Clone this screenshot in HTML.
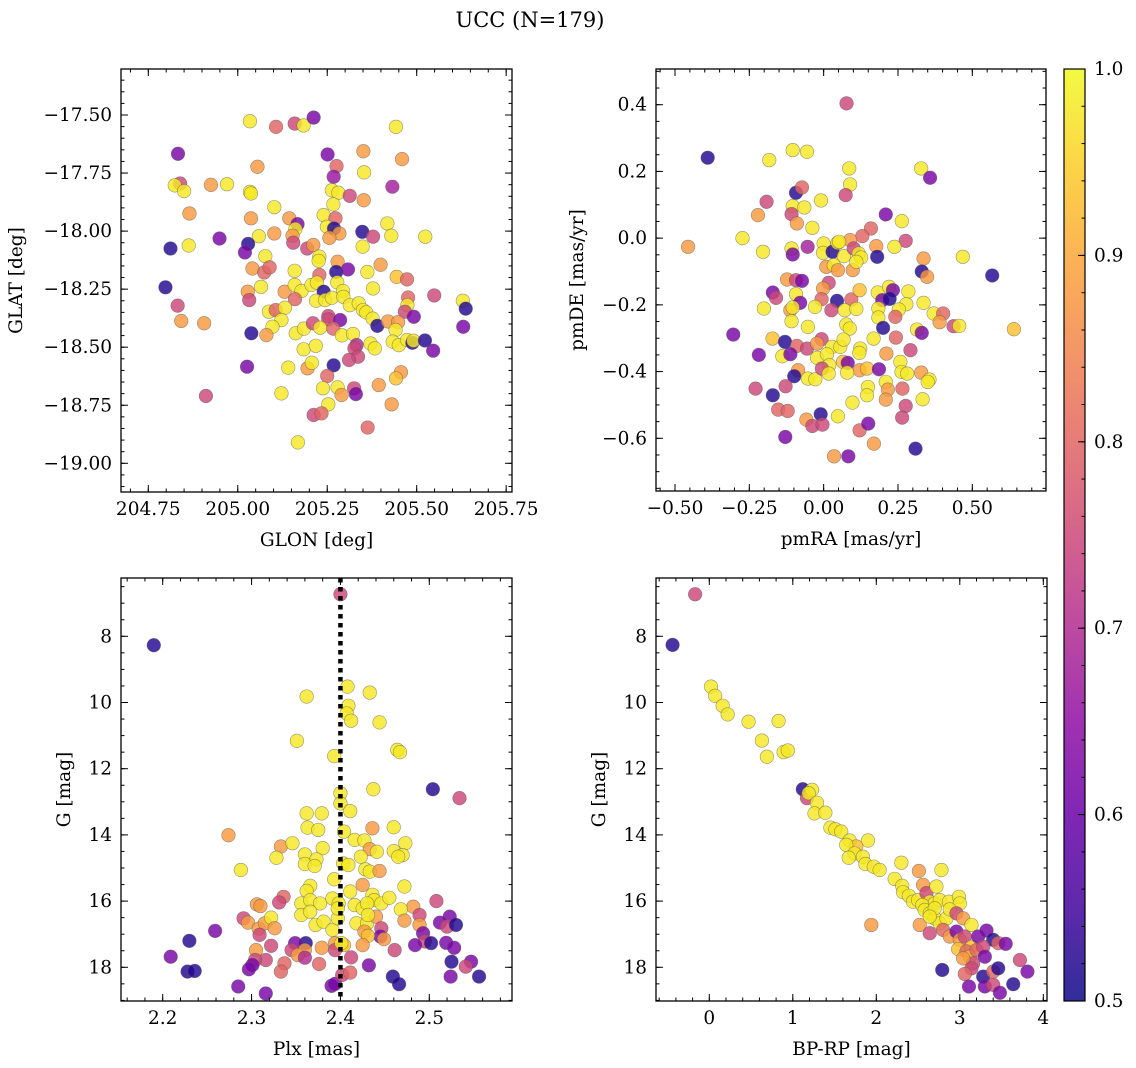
<!DOCTYPE html>
<html><head><meta charset="utf-8"><style>
html,body{margin:0;padding:0;background:#fff;}
svg{display:block;font-family:"DejaVu Serif","Liberation Serif",serif;}
</style></head><body>
<svg id="fig" width="1136" height="1068" viewBox="0 0 1136 1068">
<text x="530" y="27" font-size="21" text-anchor="middle">UCC (N=179)</text>
</svg>
<script>
// ---- data (x, y, membership probability) ----
const d=0.52, pu=0.62, pk=0.75, po=0.8, o=0.88, yo=0.93, y=0.98;
const glonGlat = [[205.034,-17.527,y],[205.107,-17.551,po],[205.159,-17.537,pk],[205.184,-17.545,y],[205.212,-17.511,pu],[205.442,-17.551,y],[204.833,-17.667,pu],[205.251,-17.670,pu],[205.351,-17.656,o],[205.276,-17.720,po],[205.459,-17.690,o],[205.055,-17.723,o],[205.353,-17.747,y],[205.268,-17.766,0.66],[205.432,-17.809,0.68],[204.839,-17.795,pk],[204.824,-17.803,y],[204.850,-17.828,y],[204.925,-17.801,o],[204.970,-17.798,y],[205.034,-17.831,y],[205.037,-17.838,y],[205.263,-17.824,y],[205.281,-17.835,y],[205.313,-17.848,pk],[205.352,-17.867,o],[205.267,-17.885,y],[205.102,-17.897,y],[204.865,-17.924,o],[205.240,-17.931,y],[205.273,-17.945,po],[205.037,-17.945,o],[205.144,-17.945,o],[205.167,-17.970,pu],[205.161,-17.991,y],[205.249,-17.981,y],[205.269,-17.989,d],[205.284,-18.010,o],[205.256,-18.029,o],[205.418,-17.967,y],[205.429,-18.020,y],[205.348,-18.003,d],[205.378,-18.024,pk],[205.524,-18.024,y],[204.949,-18.032,pu],[205.059,-18.022,y],[205.102,-18.010,o],[205.153,-18.020,o],[205.155,-18.050,pk],[205.029,-18.055,d],[205.020,-18.092,pu],[204.812,-18.075,d],[204.863,-18.062,y],[205.194,-18.075,pk],[205.211,-18.060,o],[205.349,-18.067,y],[205.077,-18.108,y],[205.228,-18.110,y],[205.226,-18.128,y],[205.279,-18.132,o],[205.275,-18.176,d],[205.308,-18.165,pu],[205.399,-18.145,o],[205.362,-18.176,y],[205.041,-18.161,o],[205.074,-18.178,po],[205.089,-18.156,po],[205.159,-18.171,y],[205.228,-18.189,po],[205.444,-18.197,yo],[205.473,-18.208,po],[204.798,-18.242,d],[205.065,-18.240,y],[205.028,-18.261,o],[205.131,-18.261,o],[205.159,-18.232,y],[205.178,-18.258,y],[205.206,-18.232,y],[205.221,-18.222,y],[205.240,-18.261,d],[205.278,-18.221,y],[205.294,-18.258,y],[205.378,-18.247,y],[205.549,-18.277,pk],[205.629,-18.300,y],[205.637,-18.334,d],[205.630,-18.412,pu],[204.832,-18.321,pk],[205.032,-18.297,pk],[205.160,-18.293,po],[205.219,-18.300,y],[205.244,-18.297,y],[205.263,-18.287,y],[205.295,-18.283,y],[205.313,-18.319,y],[205.338,-18.311,y],[205.350,-18.340,y],[205.359,-18.350,y],[205.476,-18.286,po],[205.474,-18.319,y],[205.467,-18.347,pk],[205.492,-18.369,pu],[204.842,-18.387,o],[204.906,-18.397,o],[205.087,-18.347,y],[205.106,-18.340,po],[205.132,-18.330,y],[205.122,-18.383,y],[205.097,-18.412,y],[205.253,-18.366,pk],[205.253,-18.380,pk],[205.286,-18.383,pu],[205.377,-18.377,y],[205.390,-18.408,d],[205.420,-18.389,o],[205.448,-18.392,o],[205.441,-18.426,y],[205.038,-18.440,d],[205.080,-18.448,o],[205.162,-18.440,y],[205.185,-18.420,y],[205.210,-18.397,pk],[205.230,-18.416,y],[205.267,-18.420,po],[205.291,-18.449,y],[205.322,-18.443,y],[205.433,-18.476,y],[205.450,-18.491,y],[205.473,-18.469,y],[205.488,-18.481,d],[205.491,-18.472,y],[205.523,-18.471,d],[205.546,-18.515,pu],[205.184,-18.509,y],[205.218,-18.494,y],[205.332,-18.491,0.7],[205.326,-18.505,pk],[205.336,-18.541,pk],[205.311,-18.555,pk],[205.371,-18.484,y],[205.383,-18.505,y],[205.026,-18.584,pu],[205.141,-18.588,y],[205.195,-18.591,o],[205.207,-18.567,y],[205.268,-18.578,d],[205.250,-18.624,po],[205.456,-18.608,o],[205.442,-18.634,yo],[205.394,-18.663,o],[205.238,-18.677,y],[205.279,-18.673,y],[205.290,-18.706,o],[205.325,-18.677,pk],[205.330,-18.702,pu],[205.122,-18.699,y],[205.253,-18.746,y],[205.430,-18.746,o],[204.911,-18.710,pk],[205.212,-18.792,pk],[205.234,-18.785,po],[205.363,-18.846,po],[205.168,-18.910,y]];
const pmraPmde = [[0.077,0.404,pk],[-0.39,0.241,d],[-0.456,-0.026,o],[-0.273,0.0,y],[-0.104,0.264,y],[-0.056,0.259,y],[-0.183,0.234,y],[0.086,0.209,y],[0.089,0.161,y],[0.328,0.209,y],[0.358,0.181,pu],[-0.093,0.136,d],[-0.073,0.152,po],[0.074,0.129,pk],[-0.192,0.109,pk],[-0.104,0.096,y],[-0.065,0.092,y],[-0.009,0.113,y],[-0.108,0.072,pk],[-0.221,0.069,o],[-0.090,0.044,o],[-0.038,0.031,y],[0.209,0.071,pu],[0.263,0.051,y],[0.159,0.029,po],[0.130,0.006,po],[0.276,-0.008,pk],[0.089,-0.006,o],[0.177,-0.024,o],[0.238,-0.026,y],[0.0,-0.016,y],[-0.002,-0.044,y],[0.030,-0.041,d],[0.047,-0.014,y],[0.052,-0.011,y],[0.068,-0.054,y],[0.101,-0.031,pk],[0.118,-0.046,y],[0.126,-0.058,y],[0.180,-0.056,d],[-0.108,-0.031,y],[-0.104,-0.049,pu],[-0.054,-0.026,0.68],[-0.204,-0.041,y],[0.468,-0.056,y],[0.336,-0.061,o],[0.567,-0.112,d],[0.330,-0.100,d],[0.348,-0.116,o],[0.009,-0.086,o],[0.034,-0.081,y],[0.048,-0.096,o],[0.098,-0.096,o],[0.110,-0.071,y],[-0.123,-0.124,o],[-0.093,-0.126,pk],[-0.073,-0.128,pu],[0.017,-0.134,pk],[-0.002,-0.151,o],[-0.007,-0.183,po],[0.045,-0.188,d],[0.093,-0.184,po],[0.121,-0.156,yo],[0.182,-0.163,y],[0.220,-0.146,y],[0.233,-0.156,pu],[0.285,-0.160,y],[0.197,-0.186,pu],[0.222,-0.182,d],[-0.171,-0.163,pu],[-0.160,-0.179,pk],[-0.093,-0.168,y],[-0.079,-0.194,pu],[0.336,-0.194,y],[0.278,-0.198,y],[0.253,-0.214,y],[-0.201,-0.211,y],[-0.112,-0.216,o],[-0.104,-0.208,y],[-0.029,-0.206,y],[0.026,-0.216,pk],[0.071,-0.216,y],[0.110,-0.212,y],[0.184,-0.211,y],[0.184,-0.238,y],[0.241,-0.236,po],[0.370,-0.226,y],[0.402,-0.226,po],[0.390,-0.252,o],[0.437,-0.264,pk],[0.456,-0.263,y],[0.640,-0.273,yo],[-0.108,-0.249,y],[-0.053,-0.266,y],[0.076,-0.259,y],[0.088,-0.271,y],[0.200,-0.269,d],[0.314,-0.274,y],[0.330,-0.284,pu],[0.243,-0.298,po],[0.168,-0.301,y],[0.292,-0.336,pk],[0.211,-0.346,o],[-0.304,-0.289,pu],[-0.172,-0.301,yo],[-0.130,-0.311,d],[-0.090,-0.323,po],[-0.056,-0.331,pk],[-0.007,-0.303,pk],[-0.022,-0.316,o],[0.028,-0.326,y],[0.056,-0.326,y],[0.067,-0.304,y],[0.123,-0.331,y],[0.120,-0.344,y],[-0.218,-0.350,pu],[-0.139,-0.354,y],[-0.112,-0.348,pu],[-0.022,-0.359,y],[0.011,-0.348,y],[0.065,-0.371,yo],[0.081,-0.374,pu],[0.019,-0.381,y],[0.258,-0.371,y],[0.121,-0.396,o],[0.146,-0.391,yo],[0.186,-0.393,pu],[0.262,-0.401,y],[0.281,-0.406,y],[0.328,-0.403,o],[0.356,-0.424,y],[0.350,-0.431,y],[-0.086,-0.396,o],[-0.099,-0.414,d],[-0.053,-0.421,y],[-0.028,-0.423,y],[-0.006,-0.391,pk],[0.017,-0.406,y],[0.079,-0.403,y],[0.209,-0.431,y],[0.216,-0.454,o],[0.265,-0.451,po],[0.149,-0.446,y],[0.146,-0.471,y],[0.209,-0.484,o],[0.333,-0.483,y],[-0.229,-0.451,pk],[-0.171,-0.471,d],[-0.128,-0.444,pk],[-0.153,-0.514,po],[-0.121,-0.518,po],[-0.010,-0.528,d],[0.048,-0.534,y],[0.097,-0.493,y],[0.276,-0.503,pk],[0.264,-0.538,pk],[-0.058,-0.544,o],[-0.038,-0.563,pk],[-0.004,-0.559,pk],[0.121,-0.576,po],[0.150,-0.556,pu],[-0.129,-0.596,pu],[0.169,-0.616,o],[0.309,-0.631,d],[0.035,-0.654,o],[0.083,-0.654,pu]];
const plxG = [[2.190,8.27,d],[2.400,6.73,pk],[2.408,9.52,y],[2.433,9.70,y],[2.362,9.82,y],[2.409,10.10,y],[2.407,10.33,y],[2.412,10.55,y],[2.444,10.60,y],[2.351,11.16,y],[2.464,11.43,y],[2.467,11.50,y],[2.393,11.62,y],[2.437,12.62,y],[2.504,12.62,d],[2.534,12.89,pk],[2.400,12.74,y],[2.400,13.05,y],[2.362,13.35,y],[2.379,13.35,y],[2.411,13.28,y],[2.274,14.01,o],[2.363,13.78,y],[2.375,13.85,y],[2.404,13.90,y],[2.436,13.80,o],[2.460,13.77,y],[2.333,14.35,o],[2.346,14.25,y],[2.380,14.40,y],[2.416,14.15,y],[2.427,14.17,y],[2.433,14.43,o],[2.441,14.51,y],[2.460,14.49,y],[2.473,14.25,y],[2.470,14.61,y],[2.465,14.66,y],[2.328,14.69,y],[2.360,14.59,y],[2.373,14.74,y],[2.360,14.88,y],[2.371,14.94,y],[2.403,14.86,y],[2.409,14.91,y],[2.423,14.66,y],[2.288,15.06,y],[2.428,15.04,y],[2.433,15.11,y],[2.444,15.09,o],[2.393,15.34,y],[2.425,15.51,o],[2.472,15.56,y],[2.366,15.54,y],[2.362,15.69,y],[2.411,15.71,y],[2.336,15.87,po],[2.331,16.04,pk],[2.306,16.10,o],[2.310,16.15,o],[2.356,16.07,y],[2.366,15.97,y],[2.377,16.07,y],[2.391,15.92,y],[2.398,16.07,y],[2.416,16.12,y],[2.425,16.22,y],[2.436,15.81,y],[2.438,15.97,y],[2.446,16.07,y],[2.455,15.90,y],[2.430,16.07,y],[2.482,16.17,o],[2.508,16.00,pk],[2.468,16.25,y],[2.489,16.42,pk],[2.523,16.47,pu],[2.512,16.65,pu],[2.520,16.77,pk],[2.530,16.72,d],[2.291,16.52,pk],[2.296,16.65,o],[2.308,16.83,o],[2.315,16.67,o],[2.322,16.50,y],[2.326,16.82,o],[2.356,16.42,y],[2.366,16.32,y],[2.372,16.72,y],[2.381,16.62,y],[2.391,16.87,y],[2.397,16.52,y],[2.397,16.22,y],[2.418,16.67,y],[2.430,16.67,y],[2.427,16.92,o],[2.440,16.47,o],[2.431,16.42,y],[2.472,16.59,o],[2.489,16.72,o],[2.493,16.97,pu],[2.495,17.22,pk],[2.502,17.27,d],[2.484,17.33,pu],[2.519,17.26,pu],[2.528,17.41,pu],[2.446,16.82,pk],[2.445,17.07,pu],[2.449,17.15,o],[2.461,17.48,pk],[2.431,17.05,yo],[2.425,17.33,o],[2.404,17.33,yo],[2.394,17.27,o],[2.379,17.41,o],[2.361,17.27,d],[2.349,17.27,pu],[2.345,17.48,pk],[2.360,17.48,o],[2.352,17.63,o],[2.360,17.71,0.7],[2.322,17.35,pk],[2.305,17.48,o],[2.309,17.02,pk],[2.316,17.78,pk],[2.337,17.88,po],[2.333,18.13,po],[2.376,17.90,po],[2.412,17.70,pk],[2.394,17.48,pk],[2.304,17.78,pk],[2.301,17.93,pu],[2.297,18.06,pu],[2.259,16.90,pu],[2.230,17.20,d],[2.209,17.68,pu],[2.228,18.13,d],[2.236,18.11,d],[2.285,18.58,pu],[2.316,18.79,pu],[2.390,18.56,pu],[2.394,18.50,pu],[2.402,18.23,pk],[2.411,18.16,po],[2.432,17.94,pu],[2.459,18.28,d],[2.466,18.51,d],[2.525,17.83,d],[2.547,17.83,pu],[2.541,17.98,pk],[2.556,18.28,d],[2.524,18.28,pu],[2.401,17.27,y]];
const bprpG = [[-0.44,8.26,d],[-0.17,6.73,pk],[0.02,9.52,y],[0.07,9.80,y],[0.16,10.10,y],[0.22,10.36,y],[0.47,10.58,y],[0.83,10.56,y],[0.63,11.15,y],[0.69,11.64,y],[0.89,11.50,y],[0.94,11.45,y],[1.12,12.62,d],[1.17,12.89,pk],[1.23,12.64,y],[1.19,12.74,y],[1.29,13.03,y],[1.26,13.35,y],[1.39,13.33,y],[1.45,13.78,y],[1.51,13.83,y],[1.58,13.90,y],[1.68,14.17,y],[1.90,14.17,y],[1.76,14.35,yo],[1.64,14.30,y],[1.74,14.56,y],[1.67,14.69,y],[1.84,14.66,y],[1.87,14.88,y],[1.97,14.96,y],[2.04,15.06,y],[2.30,14.84,y],[2.51,15.09,o],[2.78,15.06,y],[2.22,15.33,y],[2.31,15.54,y],[2.56,15.51,o],[2.32,15.73,y],[2.39,15.84,y],[2.44,16.02,y],[2.50,15.97,y],[2.60,15.76,pk],[2.72,15.56,y],[2.64,16.02,y],[2.70,16.07,y],[2.76,15.97,y],[2.87,16.02,y],[2.99,15.87,y],[3.00,16.07,y],[2.55,16.12,y],[2.58,16.27,y],[2.64,16.37,y],[2.70,16.52,y],[2.76,16.67,y],[2.84,16.52,y],[2.88,16.25,y],[2.96,16.37,pk],[3.04,16.52,o],[3.14,16.72,y],[2.52,16.72,o],[2.64,16.97,pk],[2.80,16.87,po],[2.88,17.07,o],[2.96,16.92,pu],[3.00,17.17,o],[3.06,17.07,pk],[3.14,17.38,yo],[3.22,17.07,pu],[3.32,16.89,pu],[3.40,17.17,d],[3.46,17.27,po],[3.55,17.29,pu],[2.98,17.45,yo],[3.08,17.52,po],[3.12,17.68,yo],[3.20,17.48,po],[3.28,17.38,pk],[3.30,17.68,pu],[3.16,17.88,pk],[3.04,17.73,o],[3.14,18.03,pk],[3.06,18.20,po],[3.28,18.28,d],[3.40,18.13,po],[3.46,18.03,d],[3.72,17.78,pk],[3.81,18.13,pu],[2.79,18.08,d],[3.11,18.58,pu],[3.30,18.58,pu],[3.40,18.53,pk],[3.48,18.77,pu],[3.64,18.51,d],[1.94,16.72,o],[2.70,16.22,y],[2.64,16.47,y]];
const plxLine = [2.4];
const cbarTicks = [0.5,0.6,0.7,0.8,0.9,1.0];

const NS="http://www.w3.org/2000/svg";
const svg=document.getElementById('fig');
const FS=18.5;
function mk(tag,attrs,parent){const e=document.createElementNS(NS,tag);for(const k in attrs)e.setAttribute(k,attrs[k]);(parent||svg).appendChild(e);return e;}
const plasmaStops=["#0d0887","#41049d","#6a00a8","#8f0da4","#b12a90","#cc4778","#e16462","#f2844b","#fca636","#fcce25","#f0f921"];
function hex2rgb(h){return [parseInt(h.substr(1,2),16),parseInt(h.substr(3,2),16),parseInt(h.substr(5,2),16)];}
function plasma(t){t=Math.max(0,Math.min(1,t));const s=t*10,i=Math.min(9,Math.floor(s)),f=s-i;const a=hex2rgb(plasmaStops[i]),b=hex2rgb(plasmaStops[i+1]);return 'rgb('+a.map((v,k)=>Math.round(v+(b[k]-v)*f)).join(',')+')';}
function cmap(p){return plasma((p-0.5)/0.5);}
function lin(v0,p0,v1,p1){return v=>p0+(v-v0)*(p1-p0)/(v1-v0);}
function range(a,b,s){const r=[];for(let v=a;v<=b+1e-9;v+=s)r.push(+v.toFixed(6));return r;}

function panel(cfg){
  const g=mk('g',{});
  
  
  const {x0,x1,y0,y1}=cfg.box;
  const pg=mk('g',{},g);
  
  
  cfg.data.forEach(pt=>{
    const c=mk('circle',{cx:cfg.sx(pt[0]),cy:cfg.sy(pt[1]),r:6.8,fill:cmap(pt[2]),'fill-opacity':0.82,stroke:'#555','stroke-opacity':0.6,'stroke-width':0.6},pg);
    
    
  });
  if(cfg.vline){cfg.vline.forEach(v=>{const l=mk('line',{x1:cfg.sx(v),x2:cfg.sx(v),y1:y0,y2:y1,stroke:'#000','stroke-width':4.5,'stroke-dasharray':'4.5,4.5'},g);
    
    });}
  const fr=mk('rect',{x:x0,y:y0,width:x1-x0,height:y1-y0,fill:'none',stroke:'#000','stroke-width':1.3},g);
  
  
  const tg=mk('g',{stroke:'#000','stroke-width':1},g);
  cfg.xminor.forEach(v=>{const X=cfg.sx(v);if(X<x0||X>x1)return;mk('line',{x1:X,x2:X,y1:y1,y2:y1-3.5},tg);mk('line',{x1:X,x2:X,y1:y0,y2:y0+3.5},tg);});
  cfg.yminor.forEach(v=>{const Y=cfg.sy(v);if(Y<y0||Y>y1)return;mk('line',{x1:x0,x2:x0+3.5,y1:Y,y2:Y},tg);mk('line',{x1:x1,x2:x1-3.5,y1:Y,y2:Y},tg);});
  cfg.xticks.forEach(v=>{const X=cfg.sx(v);mk('line',{x1:X,x2:X,y1:y1,y2:y1-7},tg);mk('line',{x1:X,x2:X,y1:y0,y2:y0+7},tg);
    const t=mk('text',{x:X,y:y1+23,'font-size':FS,'text-anchor':'middle'},g);t.textContent=cfg.xfmt(v);
    
    });
  cfg.yticks.forEach(v=>{const Y=cfg.sy(v);mk('line',{x1:x0,x2:x0+7,y1:Y,y2:Y},tg);mk('line',{x1:x1,x2:x1-7,y1:Y,y2:Y},tg);
    const t=mk('text',{x:x0-9,y:Y+6,'font-size':FS,'text-anchor':'end'},g);t.textContent=cfg.yfmt(v);
    
    });
  const xl=mk('text',{x:(x0+x1)/2,y:y1+54,'font-size':FS,'text-anchor':'middle'},g);xl.textContent=cfg.xlabel;
  
  
  const yl=mk('text',{x:0,y:0,'font-size':FS,'text-anchor':'middle',transform:`translate(${cfg.ylx},${(y0+y1)/2}) rotate(-90)`},g);yl.textContent=cfg.ylabel;
  
  
}
const m=s=>s.replace('-','\u2212');
panel({name:'glon-glat-panel',box:{x0:121,x1:512,y0:69,y1:492},data:glonGlat,
  sx:lin(204.75,148.3,205.5,416.7),sy:lin(-17.5,115,-19,463.3),
  xticks:range(204.75,205.75,0.25),xminor:range(204.65,205.85,0.05),yticks:range(-19,-17.5,0.25),yminor:range(-19.2,-17.25,0.05),
  xfmt:v=>v.toFixed(2),yfmt:v=>m(v.toFixed(2)),xlabel:'GLON [deg]',ylabel:'GLAT [deg]',ylx:22});
panel({name:'pm-panel',box:{x0:656,x1:1046,y0:69,y1:491},data:pmraPmde,
  sx:lin(-0.5,675,0.5,972.3),sy:lin(0.4,104.7,-0.6,438.3),
  xticks:range(-0.5,0.5,0.25),xminor:range(-0.6,0.8,0.05),yticks:range(-0.6,0.4,0.2),yminor:range(-0.8,0.55,0.05),
  xfmt:v=>m(v.toFixed(2)),yfmt:v=>m(v.toFixed(1)),xlabel:'pmRA [mas/yr]',ylabel:'pmDE [mas/yr]',ylx:583});
panel({name:'plx-g-panel',box:{x0:121,x1:512,y0:578,y1:1001},data:plxG,vline:plxLine,
  sx:lin(2.2,162.7,2.5,429.3),sy:lin(8,636.3,18,967.3),
  xticks:range(2.2,2.5,0.1),xminor:range(2.14,2.6,0.02),yticks:range(8,18,2),yminor:range(6,19.5,0.5),
  xfmt:v=>v.toFixed(1),yfmt:v=>String(v),xlabel:'Plx [mas]',ylabel:'G [mag]',ylx:70});
panel({name:'cmd-panel',box:{x0:656,x1:1047,y0:578,y1:1001},data:bprpG,
  sx:lin(0,709.3,4,1043.3),sy:lin(8,636.3,18,967.3),
  xticks:range(0,4,1),xminor:range(-0.8,4.2,0.2),yticks:range(8,18,2),yminor:range(6,19.5,0.5),
  xfmt:v=>String(v),yfmt:v=>String(v),xlabel:'BP-RP [mag]',ylabel:'G [mag]',ylx:605});

const cb=mk('g',{});


const defs=mk('defs',{},cb);
const lg=mk('linearGradient',{id:'pl',x1:0,y1:1,x2:0,y2:0},defs);
for(let i=0;i<=20;i++)mk('stop',{offset:(i/20),'stop-color':plasma(i/20),'stop-opacity':0.85},lg);
const cbx=1064,cbw=21,cby0=69,cby1=1001;
mk('rect',{x:cbx,y:cby0,width:cbw,height:cby1-cby0,fill:'url(#pl)',stroke:'#000','stroke-width':1.2},cb);
const cs=lin(0.5,cby1,1.0,cby0);
range(0.5,1.0,0.02).forEach(v=>{mk('line',{x1:cbx+cbw,x2:cbx+cbw-3.5,y1:cs(v),y2:cs(v),stroke:'#000'},cb);});
cbarTicks.forEach(v=>{const Y=cs(v);mk('line',{x1:cbx+cbw,x2:cbx+cbw-7,y1:Y,y2:Y,stroke:'#000'},cb);
  const t=mk('text',{x:cbx+cbw+9,y:Y+6,'font-size':FS},cb);t.textContent=v.toFixed(1);
  
  });
</script>
</body></html>
